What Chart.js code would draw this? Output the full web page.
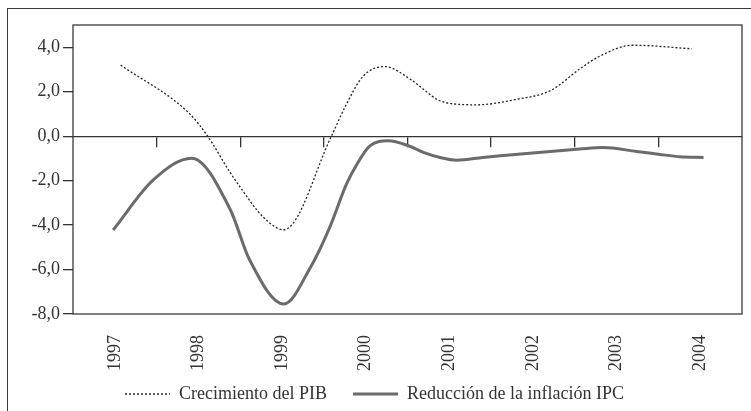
<!DOCTYPE html>
<html>
<head>
<meta charset="utf-8">
<script src="https://cdn.jsdelivr.net/npm/chart.js@4.4.0/dist/chart.umd.min.js"></script>
<style>
    html, body { margin: 0; padding: 0; background: #fff; }
    #wrap { position: relative; width: 751px; height: 411px; overflow: hidden; }
    #frame {
        position: absolute; left: 7px; top: 8px; width: 800px; height: 450px;
        border: 1.3px solid #3a3a3a; pointer-events: none;
    }
    #chart { position: absolute; left: 0; top: 0; }
</style>
</head>
<body>
<div id="wrap">
    <canvas id="chart" width="751" height="411"></canvas>
    <div id="frame"></div>
</div>
<script>
const SERIF = '"Liberation Serif", "DejaVu Serif", serif';
const INK = '#333333';

// categorías (años) y marcas entre años sobre la línea de cero
const yearTicks = [1997, 1998, 1999, 2000, 2001, 2002, 2003, 2004];
const yearLabels = ['1997', '1998', '1999', '2000', '2001', '2002', '2003', '2004'];
const yearBounds = [1997.5, 1998.5, 1999.5, 2000.5, 2001.5, 2002.5, 2003.5];

const yTickValues = [-8, -6, -4, -2, 0, 2, 4];
const yTickLabels = ['-8,0', '-6,0', '-4,0', '-2,0', '0,0', '2,0', '4,0'];

// Crecimiento del PIB
const pibYears = [1997.07, 1997.90, 1998.11, 1998.38, 1998.50, 1998.78, 1999.02,
                  1999.59, 1999.75, 1999.97, 2000.23, 2000.53, 2000.69, 2000.85, 2001.01,
                  2001.33, 2001.81, 2002.21, 2002.57, 2002.80, 2003.19, 2003.90];
const pibValues = [3.2, 0.99, 0.0, -1.64, -2.3, -3.66, -4.21,
                   0.0, 1.29, 2.7, 3.13, 2.57, 2.11, 1.66, 1.47,
                   1.41, 1.66, 2.05, 3.05, 3.6, 4.09, 3.93];

// Reducción de la inflación IPC
const ipcYears = [1996.98, 1997.46, 1997.92, 1998.38, 1998.61, 1999.02, 1999.34, 1999.57,
                  1999.77, 1999.89, 2000.05, 2000.27, 2000.51, 2000.69, 2000.89, 2001.09,
                  2001.40, 2001.61, 2002.56, 2002.84, 2003.24, 2003.50, 2003.76, 2004.04];
const ipcValues = [-4.22, -1.97, -0.99, -3.3, -5.55, -7.55, -5.9, -4.1,
                   -2.16, -1.3, -0.44, -0.21, -0.43, -0.73, -0.96, -1.08,
                   -0.96, -0.88, -0.58, -0.51, -0.69, -0.81, -0.93, -0.96];

const toPoints = (xs, ys) => xs.map((x, i) => ({ x: x, y: ys[i] }));

// marco del área de trazado
const plotFrame = {
    id: 'plotFrame',
    afterLayout(chart) {
        // deja sitio a las etiquetas giradas sin recortarlas
        const sx = chart.scales.x;
        sx.bottom = sx.top + 60;
    },
    afterDraw(chart) {
        const { ctx, chartArea: a } = chart;
        ctx.save();
        ctx.strokeStyle = '#3a3a3a';
        ctx.lineWidth = 1.3;
        ctx.strokeRect(a.left, a.top, a.right - a.left, a.bottom - a.top);
        ctx.restore();
    }
};

new Chart(document.getElementById('chart'), {
    type: 'line',
    data: {
        datasets: [{
            label: 'Crecimiento del PIB',
            data: toPoints(pibYears, pibValues),
            xAxisID: 'x',
            borderColor: '#222222',
            backgroundColor: '#222222',
            borderWidth: 1.3,
            borderDash: [2, 2],
            pointRadius: 0,
            cubicInterpolationMode: 'monotone'
        }, {
            label: 'Reducción de la inflación IPC',
            data: toPoints(ipcYears, ipcValues),
            xAxisID: 'x',
            borderColor: '#6b6b6b',
            backgroundColor: '#6b6b6b',
            borderWidth: 3,
            pointRadius: 0,
            cubicInterpolationMode: 'monotone'
        }]
    },
    options: {
        responsive: false,
        animation: false,
        layout: { padding: { left: 7, top: 25, right: 9, bottom: -2 } },
        scales: {
            x: {
                type: 'linear',
                position: 'bottom',
                min: 1996.5,
                max: 2004.5,
                afterBuildTicks: s => { s.ticks = yearTicks.map(v => ({ value: v })); },
                afterFit: s => { s.height = 45; },
                grid: { display: false },
                border: { display: false },
                ticks: {
                    minRotation: 90,
                    maxRotation: 90,
                    padding: 13,
                    color: INK,
                    font: { family: SERIF, size: 18 },
                    callback: (v, i) => yearLabels[i]
                }
            },
            xz: {
                type: 'linear',
                axis: 'x',
                position: { y: 0 },
                min: 1996.5,
                max: 2004.5,
                afterBuildTicks: s => { s.ticks = yearBounds.map(v => ({ value: v })); },
                ticks: { display: false },
                grid: { drawOnChartArea: false, drawTicks: true, tickLength: 10, color: INK, lineWidth: 1.3 },
                border: { display: true, color: INK, width: 1.3 }
            },
            y: {
                type: 'linear',
                min: -8,
                max: 5,
                afterBuildTicks: s => { s.ticks = yTickValues.map(v => ({ value: v })); },
                afterFit: s => { s.width = 66; },
                grid: { drawOnChartArea: false, drawTicks: true, tickLength: 10, color: INK, lineWidth: 1.3 },
                border: { display: false },
                ticks: {
                    padding: 3,
                    color: INK,
                    font: { family: SERIF, size: 18 },
                    callback: (v, i) => yTickLabels[i]
                }
            }
        },
        plugins: {
            legend: {
                position: 'bottom',
                labels: {
                    boxWidth: 45,
                    boxHeight: 0,
                    padding: 26,
                    color: INK,
                    font: { family: SERIF, size: 18 }
                }
            },
            tooltip: { enabled: false }
        }
    },
    plugins: [plotFrame]
});
</script>
</body>
</html>
